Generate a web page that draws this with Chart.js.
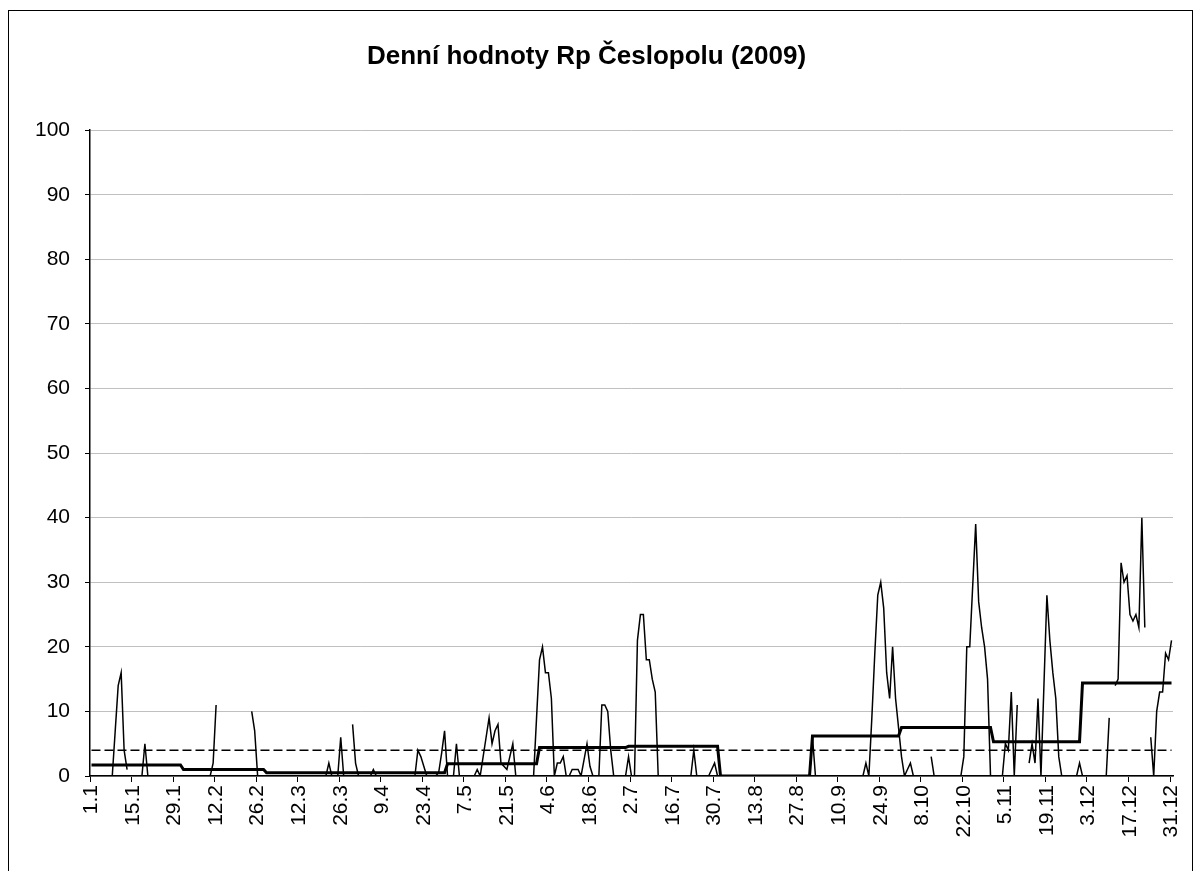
<!DOCTYPE html>
<html>
<head>
<meta charset="utf-8">
<title>Denní hodnoty Rp Česlopolu (2009)</title>
<script src="https://cdn.jsdelivr.net/npm/chart.js@4/dist/chart.umd.min.js"></script>
<style>
  html, body { margin: 0; padding: 0; background: #fff; }
  #wrap { width: 1203px; height: 871px; position: relative; }
</style>
</head>
<body>
<div id="wrap"><canvas id="rp-chart"></canvas></div>
<script>
// daily values per month (null = no measurement)
var jan = [0,0,0,0,0,0,0,0, 7,14,16,4,1, null,null,null,null, 0,5,0, 0,0,0,0,0,0,0,0,0,0,0];
var feb = [0,0,0,0,0,0,0,0,0, 0,2,11, null, 0,0,0,0,0,0,0,0,0, null, 10,7,0,0,0];
var mar = [0,0,0,0,0,0,0,0,0,0,0,0,0,0,0,0,0,0,0,0,0, 2,0,0,0,6,0,0,null,8,2];
var apr = [0, 0,0,0,0, 1, 0,0,0,0,0,0,0,0,0,0,0,0,0, 0, 4,3,1.5, 0, 0,0,0, 0.5,3.5,7];
var may = [0,0,0,5,0, 0,0,0,0,0, 1,0,3,6,9,5,7,8,2,1.5,1,3,5,0, 0,0,0,0,0,0, 9];
var jun = [18,20,16,16,12,0,2,2,3,0,0,1,1,1,0,2.5,5,1.5,0,0,0,11,11,10,4,0,0,0,0,0];
var jul = [3,0,0,21,25,25,18,18,15,13,0, 0,0,0,0,0,0,0,0,0,0,0, 4,0, 0,0,0, 0,1,2,0];
var aug = [0,0,0,0,0,0,0,0,0,0,0,0,0,0,0,0,0,0,0,0,0,0,0,0,0,0,0,0,0,0,0];
var sep = [6, 0,0,0,0,0,0,0,0,0,0,0,0,0,0,0,0, 0,2,0,9,19,28,30,26,16,12,20,12,7.5];
var oct = [3,0,1,2,0, null,null,null,null,null, 3,0, 0,0,0,0,0,0,0,0,0, 3,20,20,29.5,39,27,23,20,15,0];
var nov = [0,0,0,0, 5,4,13,0,11, null,null,null, 2,5,2,12,0,14,28,21,16,12,3,0, 0,0,0,0,0, 2];
var dec = [0,0,0,0, null,null,null,null, 0,9, null, 14,15,33,30,31,25,24,25,23,40,23, null, 6,0,10,13,13,19,18,21];

var monthAvg = [1.7, 1.0, 0.5, 0.5, 1.9, 4.4, 4.6, 0, 6.2, 7.5, 5.3, 14.4];
var yearAvg = 4.0;
var labelEvery = 14;

var months = [jan, feb, mar, apr, may, jun, jul, aug, sep, oct, nov, dec];

var labels = [];
var daily = [];
var monthly = [];
var yearly = [];
months.forEach(function(m, mi) {
  m.forEach(function(v, di) {
    labels.push((di + 1) + '.' + (mi + 1));
    daily.push(v);
    monthly.push(monthAvg[mi]);
    yearly.push(yearAvg);
  });
});

var font = 'Liberation Sans, Arial, sans-serif';

var frame = {
  id: 'frame',
  beforeDraw: function(chart) {
    var c = chart.ctx;
    c.save();
    c.fillStyle = '#fff';
    c.fillRect(0, 0, chart.width, chart.height);
    c.strokeStyle = '#000';
    c.lineWidth = 1;
    c.strokeRect(8.5, 10.5, 1184, 900);
    c.restore();
  }
};

function isTick(i) {
  return i % labelEvery === 0 || i === labels.length;
}

new Chart(document.getElementById('rp-chart'), {
  type: 'line',
  data: {
    labels: labels,
    datasets: [{
      label: 'Rp',
      data: daily,
      borderColor: '#000',
      borderWidth: 1.5,
      pointRadius: 0,
      spanGaps: false,
      tension: 0
    }, {
      label: 'měsíční průměr',
      data: monthly,
      borderColor: '#000',
      borderWidth: 3,
      pointRadius: 0
    }, {
      label: 'roční průměr',
      data: yearly,
      borderColor: '#000',
      borderWidth: 1.5,
      borderDash: [9, 4],
      pointRadius: 0
    }]
  },
  options: {
    responsive: true,
    maintainAspectRatio: false,
    animation: false,
    layout: { padding: { top: 41, right: 30, left: 0, bottom: 0 } },
    plugins: {
      legend: { display: false },
      tooltip: { enabled: false },
      title: {
        display: true,
        text: 'Denní hodnoty Rp Česlopolu (2009)',
        color: '#000',
        font: { family: font, size: 26, weight: 'bold' },
        padding: { top: 0, bottom: 58 }
      }
    },
    scales: {
      x: {
        offset: true,
        afterFit: function(s) { s.height = 95; },
        grid: {
          offset: true,
          drawOnChartArea: false,
          drawTicks: true,
          tickLength: 6,
          tickColor: function(ctx) { return isTick(ctx.index) ? '#000' : 'rgba(0,0,0,0)'; }
        },
        border: { color: '#000', width: 1.5 },
        ticks: {
          autoSkip: false,
          minRotation: 90,
          maxRotation: 90,
          padding: 3,
          color: '#000',
          font: { family: font, size: 21 },
          callback: function(v, i) { return i % labelEvery === 0 ? labels[i] : ''; }
        }
      },
      y: {
        min: 0,
        max: 100,
        afterFit: function(s) { s.width = 90; },
        grid: {
          color: '#c0c0c0',
          lineWidth: 1,
          tickColor: '#000',
          tickLength: 5
        },
        border: { color: '#000', width: 1.5 },
        ticks: {
          stepSize: 10,
          padding: 15,
          color: '#000',
          font: { family: font, size: 21 }
        }
      }
    }
  },
  plugins: [frame]
});
</script>
</body>
</html>
